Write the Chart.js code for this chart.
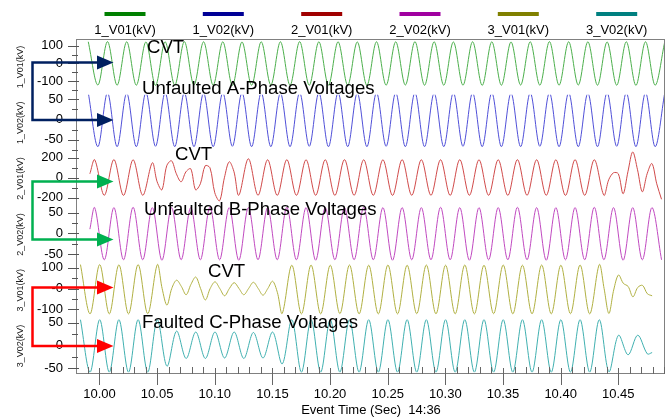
<!DOCTYPE html>
<html><head><meta charset="utf-8">
<script src="https://cdn.jsdelivr.net/npm/chart.js@4/dist/chart.umd.min.js"></script>
<style>html,body{margin:0;padding:0;background:#fff;}#wrap{width:668px;height:417px;}</style>
</head><body><div id="wrap"><canvas id="c" width="668" height="417"></canvas></div>
<script>
// ---------- DATA ----------
const seriesNames = ['1_V01(kV)','1_V02(kV)','2_V01(kV)','2_V02(kV)','3_V01(kV)','3_V02(kV)'];
const axisIds = ['y1','y2','y3','y4','y5','y6'];
const axisMin = [-176, -76.8, -287, -70.1, -142.6, -62.1];
const axisMax = [137.6, 60.8, 271, 64.7, 125.8, 60.4];
const majorTicks = [[100,0,-100],[50,0,-50],[200,0,-200],[50,0,-50],[100,0,-100],[50,0,-50]];
const majorTickLabels = [['100','0','-100'],['50','0','-50'],['200','0','-200'],['50','0','-50'],['100','-0','-100'],['50','0','-50']];
const minorTicks = [[50,-50,-150],[25,-25,-75],[100,-100],[25,-25],[50,-50],[25,-25]];
const xTicks = [10.00,10.05,10.10,10.15,10.20,10.25,10.30,10.35,10.40,10.45];
const xTickLabels = ['10.00','10.05','10.10','10.15','10.20','10.25','10.30','10.35','10.40','10.45'];
const xMinorTicks = [9.99,10.01,10.02,10.03,10.04,10.06,10.07,10.08,10.09,10.11,10.12,10.13,10.14,10.16,10.17,10.18,10.19,10.21,10.22,10.23,10.24,10.26,10.27,10.28,10.29,10.31,10.32,10.33,10.34,10.36,10.37,10.38,10.39,10.41,10.42,10.43,10.44,10.46,10.47,10.48,10.49];
const xRange = [9.9805, 10.4905];
const xTitle = 'Event Time (Sec)  14:36';

// sample grids (quarter cycle of 60 Hz); empty slots = not sampled
const sampleStep = 0.00416667;
const startA = 9.990278, startB = 9.991667, startC = 9.983507;

const v1_V01 = [
 122,,-121,, 123,,-122,, 122,,-122,, 121,,-123,, 122,,-122,,
 123,,-121,, 122,,-122,, 122,,-123,, 121,,-122,, 122,,-121,,
 122,,-122,, 123,,-122,, 122,,-121,, 122,,-122,, 121,,-123,,
 122,,-122,, 122,,-121,, 123,,-122,, 122,,-122,, 121,,-122,,
 122,,-123,, 122,,-122,, 121,,-121,, 122,,-122,, 123,,-122,,
 122,,-121,, 122,,-122,, 121,,-122,, 122,,-123,, 122,,-122,,
 122];
const v1_V02 = [
 66,,-67,, 66,,-67,, 65,,-67,, 66,,-66,, 66,,-67,,
 66,,-67,, 65,,-67,, 66,,-66,, 66,,-67,, 66,,-67,,
 65,,-67,, 66,,-66,, 66,,-67,, 66,,-67,, 65,,-67,,
 66,,-66,, 66,,-67,, 66,,-67,, 65,,-67,, 66,,-66,,
 66,,-67,, 66,,-67,, 65,,-67,, 66,,-66,, 66,,-67,,
 66,,-67,, 65,,-67,, 66,,-66,, 66,,-67,, 66,,-67,,
 66];
const v2_V01 = [
 40,
 180,,-175,, 182,,-176,, 180,,-175,,
 150,-40,-120,120,170,40,-40,60,90,-120,-60,120,100,-150,-230,0,160,60,-175,,
 190,,-175,, 180,,-176,, 181,,-175,, 180,,-175,, 180,,-176,, 181,,-175,,
 180,,-175,, 180,,-176,, 181,,-175,, 180,,-175,, 180,,-176,, 181,,-175,,
 180,,-175,, 180,,-176,, 181,,-175,, 180,,-175,, 180,,-176,, 181,,-175,,
 180,,-175,
 -20,50,40,-160,60,258,80,-140,40,142,-60,-215];
const v2_V02 = [
 10,
 62,,-64,, 62,,-64,, 63,,-64,, 62,,-65,, 62,,-64,, 62,,-64,,
 63,,-64,, 62,,-65,, 62,,-64,, 62,,-64,, 63,,-64,, 62,,-65,,
 62,,-64,, 62,,-64,, 63,,-64,, 62,,-65,, 62,,-64,, 62,,-64,,
 63,,-64,, 62,,-65,, 62,,-64,, 62,,-64,, 63,,-64,, 62,,-65,,
 62,,-64,, 62,,-64,, 63,,-64,, 62,,-65,, 62,,-64,,
 62,,-64];
const v3_V01 = [
 115,,-122,, 115,,-122,, 114,,-122,, 115,,-121,,
 115,
 0,-80,0,40,10,-30,20,55,0,-55,0,32,0,-35,0,28,0,-30,0,30,0,-32,0,35,-20,-120,,
 112,,-122,, 113,,-122,, 112,,-121,, 113,,-122,, 112,,-122,, 113,,-122,, 112,,-121,, 113,,-122,,
 112,,-122,, 113,,-122,, 112,,-121,, 113,,-122,, 112,,-122,, 113,,-122,, 112,,-121,, 113,,-122,,
 115,0,-120,-7,65,25,10,-40,5,15,-25,-35];
const v3_V02 = [
 57,,-58,, 57,,-58,, 57,,-58,, 57,,-58,,
 57,,-45,,32,,-28,,30,,-28,,30,,-27,,30,,-28,,29,,-27,,30,,-40,,
 57,,-58,, 57,,-58,, 57,,-58,, 57,,-58,, 57,,-58,, 57,,-58,, 57,,-58,, 57,,-58,,
 57,,-58,, 57,,-58,, 57,,-58,, 57,,-58,, 57,,-58,, 57,,-58,, 57,,-58,, 57,,-58,,
 57,,-57,,23,,-20,,23,,-18,-15];

const seriesValues = [v1_V01, v1_V02, v2_V01, v2_V02, v3_V01, v3_V02];
const seriesStarts = [startA, startA, startB, startB, startC, startC];
const legendColors = ['#008000','#000096','#a00000','#a000a0','#808000','#008080'];
const lineColors = ['#4caf4c','#5050d8','#d04a4a','#c04ac0','#b0b042','#40b0b0'];

// annotations
const annoTexts = [
  {t:'CVT', x:147, y:47.5}, {t:'Unfaulted A-Phase Voltages', x:142, y:89},
  {t:'CVT', x:175, y:155}, {t:'Unfaulted B-Phase Voltages', x:144, y:209.5},
  {t:'CVT', x:208, y:271.5}, {t:'Faulted C-Phase Voltages', x:142, y:323}
];
const annoArrows = [
  {c:'#002060', y1:62.5, y2:120}, {c:'#00b050', y1:181.5, y2:239.5}, {c:'#ff0000', y1:287.5, y2:346}
];
const legendCenters = [125, 223.3, 321.7, 420, 518.3, 616.7];

// ---------- BUILD ----------
const FONT = "'Liberation Sans', Arial, sans-serif";
Chart.defaults.font.family = FONT;

function buildPoints(start, values) {
  const pts = [];
  for (let i = 0; i < values.length; i++) {
    const v = values[i];
    pts.push({x: start + i * sampleStep, y: (v === undefined ? null : v)});
  }
  return pts;
}

const datasets = seriesNames.map((n, k) => ({
  label: n,
  data: buildPoints(seriesStarts[k], seriesValues[k]),
  yAxisID: axisIds[k],
  borderColor: lineColors[k],
  borderWidth: 1,
  pointRadius: 0,
  tension: 0.33,
  spanGaps: true,
  fill: false
}));

const scales = {
  x: {
    type: 'linear', min: xRange[0], max: xRange[1],
    afterBuildTicks: s => { s.ticks = xTicks.map(v => ({value: v})); },
    afterFit: s => { s.height = 43; },
    ticks: { autoSkip: false, maxRotation: 0, padding: 13, color: '#000', font: {size: 13},
      callback: (v, i) => xTickLabels[i] },
    grid: { display: false, drawTicks: false }, border: { display: false }
  }
};
for (let k = 5; k >= 0; k--) {
  scales[axisIds[k]] = {
    type: 'linear', position: 'left', stack: 'v', stackWeight: 1,
    min: axisMin[k], max: axisMax[k],
    afterBuildTicks: s => { s.ticks = majorTicks[k].map(v => ({value: v})); },
    afterFit: s => { s.width = 77; },
    ticks: { autoSkip: false, padding: 14, color: '#000', font: {size: 13},
      callback: (v, i) => majorTickLabels[k][i] },
    grid: { display: false, drawTicks: false }, border: { display: false },
    title: { display: true, text: seriesNames[k], color: '#222', font: {size: 9}, padding: {top: 15, bottom: 0} }
  };
}

const overlay = {
  id: 'overlay',
  afterDraw(chart) {
    const ctx = chart.ctx, a = chart.chartArea;
    ctx.save();
    // frame
    ctx.strokeStyle = '#808080'; ctx.lineWidth = 1;
    ctx.strokeRect(Math.round(a.left) - 0.5, Math.round(a.top) + 0.5, Math.round(a.right - a.left), Math.round(a.bottom - a.top) - 1);
    // y ticks
    ctx.strokeStyle = '#555';
    axisIds.forEach((id, k) => {
      const s = chart.scales[id];
      majorTicks[k].forEach(v => {
        const p = Math.round(s.getPixelForValue(v)) + 0.5;
        ctx.beginPath(); ctx.moveTo(a.left - 9, p); ctx.lineTo(a.left + 2, p); ctx.stroke();
      });
      minorTicks[k].forEach(v => {
        const p = Math.round(s.getPixelForValue(v)) + 0.5;
        ctx.beginPath(); ctx.moveTo(a.left - 5, p); ctx.lineTo(a.left + 1, p); ctx.stroke();
      });
    });
    // x ticks
    const xs = chart.scales.x;
    ctx.strokeStyle = '#666';
    xTicks.forEach(v => {
      const p = Math.round(xs.getPixelForValue(v)) + 0.5;
      ctx.beginPath(); ctx.moveTo(p, a.bottom - 6); ctx.lineTo(p, a.bottom + 11); ctx.stroke();
    });
    xMinorTicks.forEach(v => {
      const p = Math.round(xs.getPixelForValue(v)) + 0.5;
      ctx.beginPath(); ctx.moveTo(p, a.bottom - 7); ctx.lineTo(p, a.bottom); ctx.stroke();
    });
    // x title
    ctx.fillStyle = '#000'; ctx.font = '13px ' + FONT; ctx.textAlign = 'center'; ctx.textBaseline = 'middle';
    ctx.fillText(xTitle, (a.left + a.right) / 2, 410);
    // legend
    chart.data.datasets.forEach((d, k) => {
      const cx = legendCenters[k];
      ctx.fillStyle = legendColors[k];
      ctx.fillRect(cx - 20.5, 12, 41, 4);
      ctx.fillStyle = '#000';
      ctx.fillText(d.label, cx, 30);
    });
    // arrows
    annoArrows.forEach(ar => {
      ctx.strokeStyle = ar.c; ctx.fillStyle = ar.c; ctx.lineWidth = 2.5;
      ctx.beginPath(); ctx.moveTo(98, ar.y1); ctx.lineTo(32.5, ar.y1); ctx.lineTo(32.5, ar.y2); ctx.lineTo(98, ar.y2); ctx.stroke();
      [ar.y1, ar.y2].forEach(y => {
        ctx.beginPath(); ctx.moveTo(97, y - 7); ctx.lineTo(113.5, y); ctx.lineTo(97, y + 7); ctx.closePath(); ctx.fill();
      });
    });
    // texts
    ctx.fillStyle = '#000'; ctx.font = '18.6px ' + FONT; ctx.textAlign = 'left'; ctx.textBaseline = 'middle';
    annoTexts.forEach(t => ctx.fillText(t.t, t.x, t.y));
    ctx.restore();
  }
};

new Chart(document.getElementById('c'), {
  type: 'line',
  data: { datasets },
  options: {
    responsive: false, animation: false, events: [],
    layout: { padding: { top: 39, right: 3, left: 0, bottom: 0 } },
    plugins: { legend: { display: false }, tooltip: { enabled: false } },
    scales
  },
  plugins: [overlay]
});
</script></body></html>
